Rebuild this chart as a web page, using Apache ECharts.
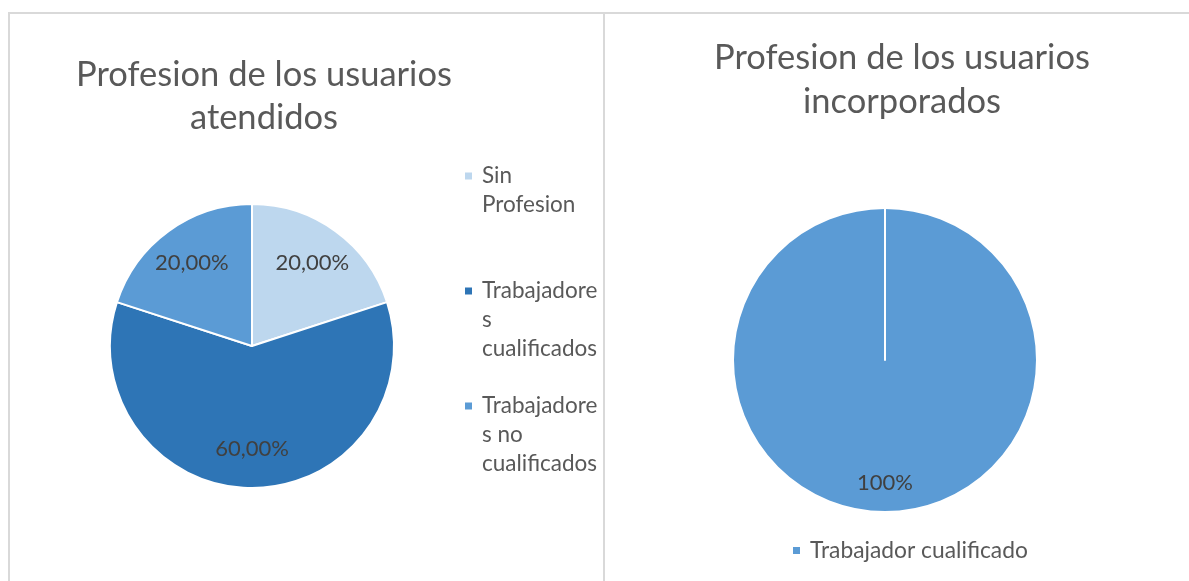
<!DOCTYPE html>
<html lang="es">
<head>
  <meta charset="UTF-8">
  <title>Profesion de los usuarios</title>
  <style>
    html, body{margin: 0; padding: 0; background: #fff}
    #chart{width: 1189px; height: 581px}
  </style>
  <script src="https://cdn.jsdelivr.net/npm/echarts@6/dist/echarts.min.js"></script>
</head>
<body>
  <div id="chart"></div>
  <script>
    // datos del grafico de la izquierda
    const atendidosNames = ['Sin Profesion', 'Trabajadores cualificados', 'Trabajadores no cualificados'];
    const atendidosValues = [20, 60, 20];
    const atendidosLegend = ['Sin\nProfesion', 'Trabajadore\ns\ncualificados', 'Trabajadore\ns no\ncualificados'];
    const atendidosColors = ['#BDD7EE', '#2E75B6', '#5B9BD5'];

    // datos del grafico de la derecha
    const incorporadosNames = ['Trabajador cualificado'];
    const incorporadosValues = [100];
    const incorporadosColors = ['#5B9BD5'];

    const FONT = 'Lato';
    const GREY = '#595959';

    let chart = echarts.init(document.getElementById('chart'));

    const leftData = atendidosNames.map((n, i) => ({name: n, value: atendidosValues[i], itemStyle: {color: atendidosColors[i]}}));
    const rightData = incorporadosNames.map((n, i) => ({name: n, value: incorporadosValues[i], itemStyle: {color: incorporadosColors[i]}}));
    // corte blanco al inicio del circulo completo
    const rightCut = {name: '', value: 0, itemStyle: {color: 'transparent'}, label: {show: false}};

    // una leyenda por elemento, con el cuadro en la primera linea
    const legendTops = [176, 291, 406];
    const LH = 29;
    const leftLegends = atendidosNames.map((n, i) => {
      let lines = atendidosLegend[i].split('\n').length;
      return {
        data: [n],
        orient: 'vertical',
        left: 463,
        top: legendTops[i] - (2 * lines - 1) * LH / 2,
        padding: 0,
        itemWidth: 9,
        itemHeight: 9,
        icon: 'rect',
        selectedMode: false,
        formatter: () => '\n'.repeat(lines - 1) + atendidosLegend[i],
        textStyle: {fontFamily: FONT, fontSize: 22.5, color: GREY, lineHeight: LH, padding: [0, 0, 0, 4]}
      };
    });

    let option = {
      animation: false,
      title: [{
        text: 'Profesion de los usuarios\natendidos',
        left: 259, top: 48, textAlign: 'center',
        textStyle: {fontFamily: FONT, fontWeight: 'normal', fontSize: 34.5, color: GREY, lineHeight: 43}
      }, {
        text: 'Profesion de los usuarios\nincorporados',
        left: 897, top: 31, textAlign: 'center',
        textStyle: {fontFamily: FONT, fontWeight: 'normal', fontSize: 34.5, color: GREY, lineHeight: 44}
      }],
      legend: leftLegends.concat([{
        data: incorporadosNames,
        left: 791, top: 536, align: 'left',
        padding: 0,
        itemWidth: 9, itemHeight: 9, icon: 'rect',
        selectedMode: false,
        textStyle: {fontFamily: FONT, fontSize: 22.8, color: GREY, lineHeight: 29, padding: [0, 0, 0, 4]}
      }]),
      graphic: [
        {type: 'line', shape: {x1: 8, y1: 13, x2: 1189, y2: 13}, style: {stroke: '#D9D9D9', lineWidth: 2}},
        {type: 'line', shape: {x1: 9, y1: 13, x2: 9, y2: 581}, style: {stroke: '#D9D9D9', lineWidth: 2}},
        {type: 'line', shape: {x1: 604, y1: 13, x2: 604, y2: 581}, style: {stroke: '#D9D9D9', lineWidth: 2}}
      ],
      series: [{
        type: 'pie',
        center: [252, 346],
        radius: 142,
        startAngle: 90,
        label: {show: false},
        labelLine: {show: false},
        itemStyle: {borderColor: '#fff', borderWidth: 2},
        data: leftData
      }, {
        type: 'pie',
        center: [885, 360],
        radius: 152,
        startAngle: 90,
        label: {show: false},
        labelLine: {show: false},
        itemStyle: {borderColor: '#fff', borderWidth: 2},
        data: rightData.concat([rightCut])
      }, {
        // anillo invisible solo para colocar las etiquetas
        type: 'pie',
        silent: true,
        center: [252, 346],
        radius: [57, 142],
        startAngle: 90,
        itemStyle: {color: 'transparent'},
        label: {
          position: 'inside',
          fontFamily: FONT, fontSize: 22, color: '#404040',
          formatter: p => p.percent.toFixed(2).replace('.', ',') + '%'
        },
        data: atendidosNames.map((n, i) => ({name: n, value: atendidosValues[i]}))
      }, {
        type: 'pie',
        silent: true,
        center: [885, 360],
        radius: [88, 152],
        startAngle: 90,
        itemStyle: {color: 'transparent'},
        label: {
          position: 'inside',
          fontFamily: FONT, fontSize: 22, color: '#404040',
          formatter: p => Math.round(p.percent) + '%'
        },
        data: incorporadosNames.map((n, i) => ({name: n, value: incorporadosValues[i]}))
      }]
    };

    chart.setOption(option);
  </script>
</body>
</html>
